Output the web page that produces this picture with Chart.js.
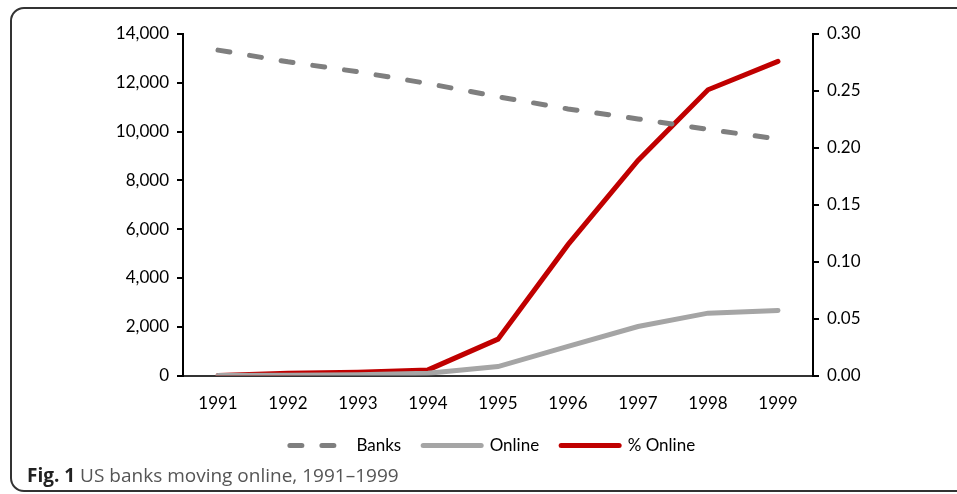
<!DOCTYPE html>
<html>
<head>
<meta charset="utf-8">
<script src="https://cdn.jsdelivr.net/npm/chart.js@4/dist/chart.umd.min.js"></script>
<style>
  html, body { margin: 0; padding: 0; background: #fff; overflow: hidden; }
  #wrap { position: relative; width: 957px; height: 494px; }
  #frame { position: absolute; left: 10px; top: 7px; width: 1000px; height: 485px;
    border: 2px solid #333; border-radius: 14px; box-sizing: border-box; }
  #cv { position: absolute; left: 0; top: 0; }
  #caption { position: absolute; left: 27px; top: 462px; font-family: "Open Sans", sans-serif;
    font-size: 19px; color: #555; white-space: nowrap; }
  #caption b { color: #222; }
</style>
</head>
<body>
<div id="wrap">
  <div id="frame"></div>
  <canvas id="cv" width="957" height="494"></canvas>
  <div id="caption"><b>Fig. 1</b> US banks moving online, 1991–1999</div>
</div>
<script>
const years = ['1991','1992','1993','1994','1995','1996','1997','1998','1999'];
const banks = [13340, 12860, 12450, 11970, 11430, 10930, 10520, 10090, 9700];
const online = [0, 10, 30, 100, 370, 1200, 2010, 2560, 2670];
const pctOnline = [0, 0.002, 0.003, 0.005, 0.032, 0.115, 0.189, 0.251, 0.276];

const font = { family: 'Lato', size: 17 };

const chart = new Chart(document.getElementById('cv'), {
	type: 'line',
	data: {
		labels: years,
		datasets: [
			{ label: 'Banks', data: banks, yAxisID: 'y', borderColor: '#7f7f7f', backgroundColor: '#7f7f7f',
			  borderWidth: 5, borderDash: [12, 20], borderCapStyle: 'round', pointRadius: 0 },
			{ label: 'Online', data: online, yAxisID: 'y', borderColor: '#a5a5a5', backgroundColor: '#a5a5a5',
			  borderWidth: 5, borderCapStyle: 'round', pointRadius: 0 },
			{ label: '% Online', data: pctOnline, yAxisID: 'y1', borderColor: '#c00000', backgroundColor: '#c00000',
			  borderWidth: 5, borderCapStyle: 'round', pointRadius: 0 }
		]
	},
	options: {
		responsive: false,
		animation: false,
		layout: { padding: { top: 34, bottom: 30, left: 28, right: 0 } },
		plugins: {
			legend: {
				position: 'bottom',
				labels: {
					color: '#000',
					font: font,
					usePointStyle: true,
					pointStyleWidth: 58,
					padding: 22,
					generateLabels: (c) => c.data.datasets.map((ds, i) => ({
						text: ds.label,
						fillStyle: ds.borderColor,
						strokeStyle: ds.borderColor,
						lineWidth: 5,
						lineDash: ds.borderDash || [],
						lineCap: 'round',
						pointStyle: 'line',
						datasetIndex: i,
						fontColor: '#000'
					}))
				}
			},
			tooltip: { enabled: false }
		},
		scales: {
			x: {
				offset: true,
				afterFit: (s) => { s.height -= 9; },
				grid: { display: false },
				border: { display: true, color: '#333', width: 2 },
				ticks: { color: '#000', font: font, padding: 10, maxRotation: 0 }
			},
			y: {
				position: 'left',
				min: 0, max: 14000,
				afterFit: (s) => { s.width = 155; },
				grid: { drawOnChartArea: false, drawTicks: true, tickLength: 6, color: '#000', lineWidth: 2 },
				border: { display: true, color: '#000', width: 2 },
				ticks: { stepSize: 2000, color: '#000', font: font, padding: 8,
					callback: (v) => v.toLocaleString('en-US') }
			},
			y1: {
				position: 'right',
				min: 0, max: 0.30,
				afterFit: (s) => { s.width = 144; },
				grid: { drawOnChartArea: false, drawTicks: true, tickLength: 6, color: '#000', lineWidth: 2 },
				border: { display: true, color: '#000', width: 2 },
				ticks: { stepSize: 0.05, color: '#000', font: font, padding: 8,
					callback: (v) => v.toFixed(2) }
			}
		}
	}
});
</script>
</body>
</html>
